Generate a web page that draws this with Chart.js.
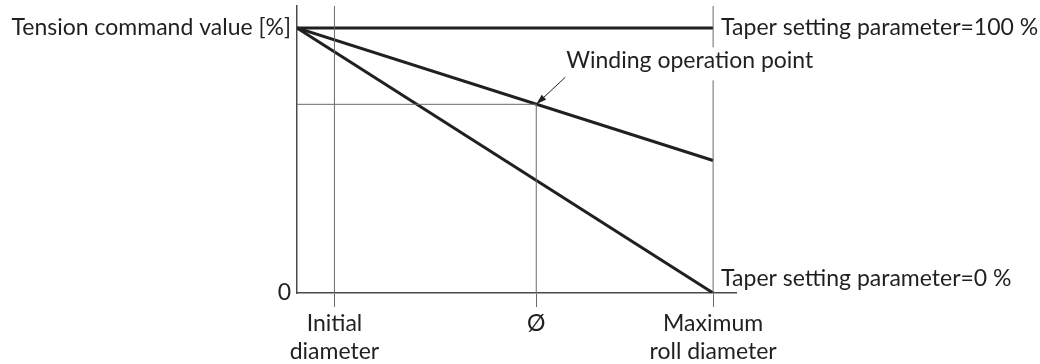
<!DOCTYPE html>
<html>
<head>
<meta charset="utf-8">
<script src="https://cdn.jsdelivr.net/npm/chart.js@4"></script>
<style>
  html, body { margin: 0; padding: 0; background: #fff; }
  canvas { display: block; }
</style>
</head>
<body>
<canvas id="taperChart" width="1040" height="364"></canvas>
<script>
// Data - START
const xTickValues = [9, 57.5, 100];
const xTickLabels = [['Initial', 'diameter'], 'Ø', ['Maximum', 'roll diameter']];
const yTickValues = [0, 100];
const yTickLabels = ['0', 'Tension command value [%]'];

const taperX = [0, 100];
const taper100 = [100, 100];
const taperMid = [100, 50];
const taper0 = [100, 0];

const windingPoint = [57.5, 71.2];
const axisMax = [105.5, 108.3];

const notes = ['Taper setting parameter=100 %', 'Winding operation point', 'Taper setting parameter=0 %'];
// Data - END

const INK = '#231f20';
const GUIDE = '#6a6a6a';
const FONT = 'Lato, "Noto Sans", sans-serif';
const FONT_SIZE = 23;

let pts = (xs, ys) => xs.map((x, i) => ({ x: x, y: ys[i] }));

let thick = (data) => ({
    data: data,
    borderColor: INK,
    borderWidth: 3,
    pointRadius: 0,
    fill: false,
    tension: 0
});
let thin = (data) => ({
    data: data,
    borderColor: GUIDE,
    borderWidth: 1,
    pointRadius: 0,
    fill: false,
    tension: 0
});

// guide lines to the diameters and the operation point
let guides = [
    thin([{ x: xTickValues[0], y: 0 }, { x: xTickValues[0], y: axisMax[1] }]),
    thin([{ x: xTickValues[2], y: 0 }, { x: xTickValues[2], y: axisMax[1] }]),
    thin([{ x: windingPoint[0], y: 0 }, { x: windingPoint[0], y: windingPoint[1] }]),
    thin([{ x: 0, y: windingPoint[1] }, { x: windingPoint[0], y: windingPoint[1] }])
];

// text and arrow next to the lines
const notesPlugin = {
    id: 'notes',
    afterDatasetsDraw(chart) {
        let ctx = chart.ctx;
        let xs = chart.scales.x;
        let ys = chart.scales.y;
        let xMax = xs.getPixelForValue(xTickValues[2]);
        let px = xs.getPixelForValue(windingPoint[0]);
        let py = ys.getPixelForValue(windingPoint[1]);

        ctx.save();
        ctx.font = FONT_SIZE + 'px ' + FONT;
        ctx.fillStyle = INK;

        ctx.textBaseline = 'middle';
        ctx.fillText(notes[0], xMax + 8, ys.getPixelForValue(taper100[1]));

        // winding point label sits on a white box over the guide line
        let tx = px + 30;
        let ty = py - 36;
        let w = ctx.measureText(notes[1]).width;
        ctx.fillStyle = '#fff';
        ctx.fillRect(tx - 2, ty - 21, w + 4, 33);
        ctx.fillStyle = INK;
        ctx.textBaseline = 'alphabetic';
        ctx.fillText(notes[1], tx, ty);

        ctx.fillText(notes[2], xMax + 8, ys.getPixelForValue(taper0[1]) - 7);

        // arrow
        let ax = px + 29, ay = py - 27;
        let ang = Math.atan2(py - ay, px - ax);
        ctx.strokeStyle = INK;
        ctx.lineWidth = 1;
        ctx.beginPath();
        ctx.moveTo(ax, ay);
        ctx.lineTo(px - 6 * Math.cos(ang), py - 6 * Math.sin(ang));
        ctx.stroke();
        ctx.beginPath();
        ctx.moveTo(px, py);
        ctx.lineTo(px - 11 * Math.cos(ang - 0.3), py - 11 * Math.sin(ang - 0.3));
        ctx.lineTo(px - 11 * Math.cos(ang + 0.3), py - 11 * Math.sin(ang + 0.3));
        ctx.closePath();
        ctx.fill();
        ctx.restore();
    }
};

let ctx = document.getElementById('taperChart');
let config = {
    type: 'line',
    data: {
        datasets: guides.concat([
            thick(pts(taperX, taper100)),
            thick(pts(taperX, taperMid)),
            thick(pts(taperX, taper0))
        ])
    },
    options: {
        responsive: false,
        animation: false,
        layout: { padding: { top: 6, right: 304, bottom: 0, left: 0 } },
        plugins: {
            legend: { display: false },
            tooltip: { enabled: false }
        },
        scales: {
            x: {
                type: 'linear',
                min: 0,
                max: axisMax[0],
                afterBuildTicks: (s) => { s.ticks = xTickValues.map((v) => ({ value: v })); },
                afterFit: (s) => { s.height = 71; s.paddingLeft = 0; s.paddingRight = 0; },
                grid: {
                    drawOnChartArea: false,
                    drawTicks: true,
                    tickLength: 14,
                    color: GUIDE,
                    lineWidth: 1
                },
                border: { color: '#4a4a4a', width: 1.5 },
                ticks: {
                    autoSkip: false,
                    maxRotation: 0,
                    padding: 2,
                    color: INK,
                    font: { family: FONT, size: FONT_SIZE, lineHeight: 1.23 },
                    callback: (v) => xTickLabels[xTickValues.indexOf(v)]
                }
            },
            y: {
                type: 'linear',
                min: 0,
                max: axisMax[1],
                afterBuildTicks: (s) => { s.ticks = yTickValues.map((v) => ({ value: v })); },
                afterFit: (s) => { s.width = 297; s.paddingTop = 0; s.paddingBottom = 0; },
                grid: { drawOnChartArea: false, drawTicks: false },
                border: { color: '#4a4a4a', width: 1.5 },
                ticks: {
                    padding: 6,
                    color: INK,
                    font: { family: FONT, size: FONT_SIZE },
                    callback: (v) => yTickLabels[yTickValues.indexOf(v)]
                }
            }
        }
    },
    plugins: [notesPlugin]
};
let taperChart = new Chart(ctx, config);
</script>
</body>
</html>
